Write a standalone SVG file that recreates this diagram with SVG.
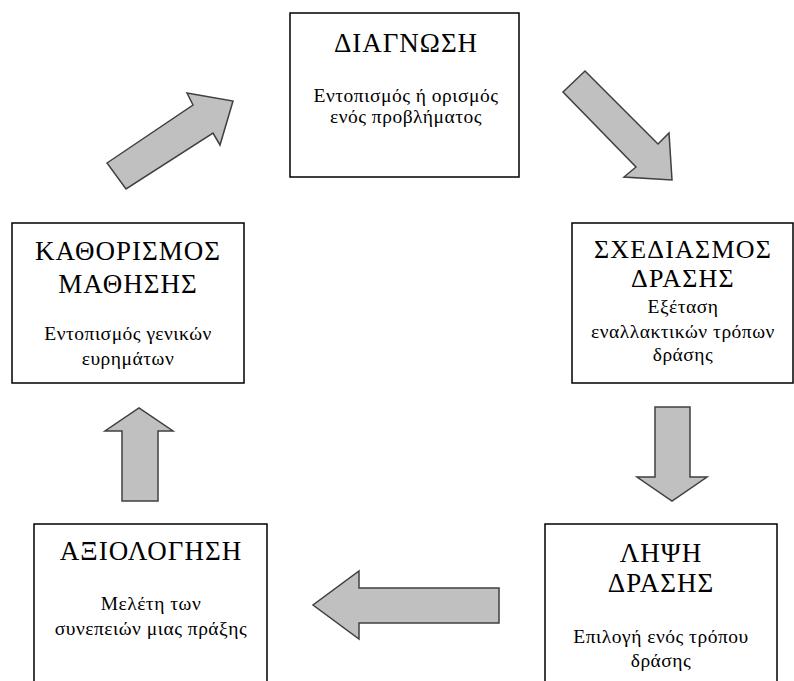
<svg xmlns="http://www.w3.org/2000/svg" width="794" height="681" viewBox="0 0 794 681">
<style>
.box{fill:#fff;stroke:#000;stroke-width:1.5}
.arr{fill:#c0c0c0;stroke:#404040;stroke-width:1.5;stroke-linejoin:miter}
text{font-family:"Liberation Serif","Times New Roman","DejaVu Serif",serif;fill:#000;text-anchor:middle}
.t{font-size:27px;letter-spacing:1px}
.t2{font-size:26px;letter-spacing:1.2px}
.b{font-size:19.5px;letter-spacing:0.5px}
</style>
<rect width="794" height="681" fill="#fff"/>
<g id="connectors">
<polygon class="arr" points="107,163 193,105 187,93 233,101 220,145 213,133 126,189"/>
<polygon class="arr" points="585,71 658,144 669,133 672,180 624,177 636,167 563,92"/>
<polygon class="arr" points="655,407 690,407 690,477 707,477 672,501 637,477 655,477"/>
<polygon class="arr" points="499,588 359,588 359,571 313,605 359,639 359,623 499,623"/>
<polygon class="arr" points="122,501 158,501 158,431 173,431 139,408 105,431 122,431"/>
</g>
<g id="diagnosi">
<rect class="box" x="290" y="13" width="229" height="164"/>
<text class="t" x="406" y="52">ΔΙΑΓΝΩΣΗ</text>
<text class="b" x="406" y="102">Εντοπισμός ή ορισμός</text>
<text class="b" x="406" y="123">ενός προβλήματος</text>
</g>
<g id="schediasmos">
<rect class="box" x="572" y="223" width="221" height="160"/>
<text class="t2" x="683" y="258">ΣΧΕΔΙΑΣΜΟΣ</text>
<text class="t2" x="683" y="287">ΔΡΑΣΗΣ</text>
<text class="b" x="683" y="313">Εξέταση</text>
<text class="b" x="683" y="338">εναλλακτικών τρόπων</text>
<text class="b" x="683" y="361">δράσης</text>
</g>
<g id="lipsi">
<rect class="box" x="545" y="524" width="232" height="170"/>
<text class="t" x="661" y="562">ΛΗΨΗ</text>
<text class="t" x="661" y="592">ΔΡΑΣΗΣ</text>
<text class="b" x="661" y="643">Επιλογή ενός τρόπου</text>
<text class="b" x="661" y="667">δράσης</text>
</g>
<g id="axiologisi">
<rect class="box" x="34" y="524" width="233" height="170"/>
<text class="t" x="151" y="560">ΑΞΙΟΛΟΓΗΣΗ</text>
<text class="b" x="151" y="610">Μελέτη των</text>
<text class="b" x="151" y="635">συνεπειών μιας πράξης</text>
</g>
<g id="kathorismos">
<rect class="box" x="12" y="223" width="232" height="160"/>
<text class="t" x="128" y="260">ΚΑΘΟΡΙΣΜΟΣ</text>
<text class="t" x="128" y="293">ΜΑΘΗΣΗΣ</text>
<text class="b" x="128" y="340">Εντοπισμός γενικών</text>
<text class="b" x="128" y="365">ευρημάτων</text>
</g>
</svg>
